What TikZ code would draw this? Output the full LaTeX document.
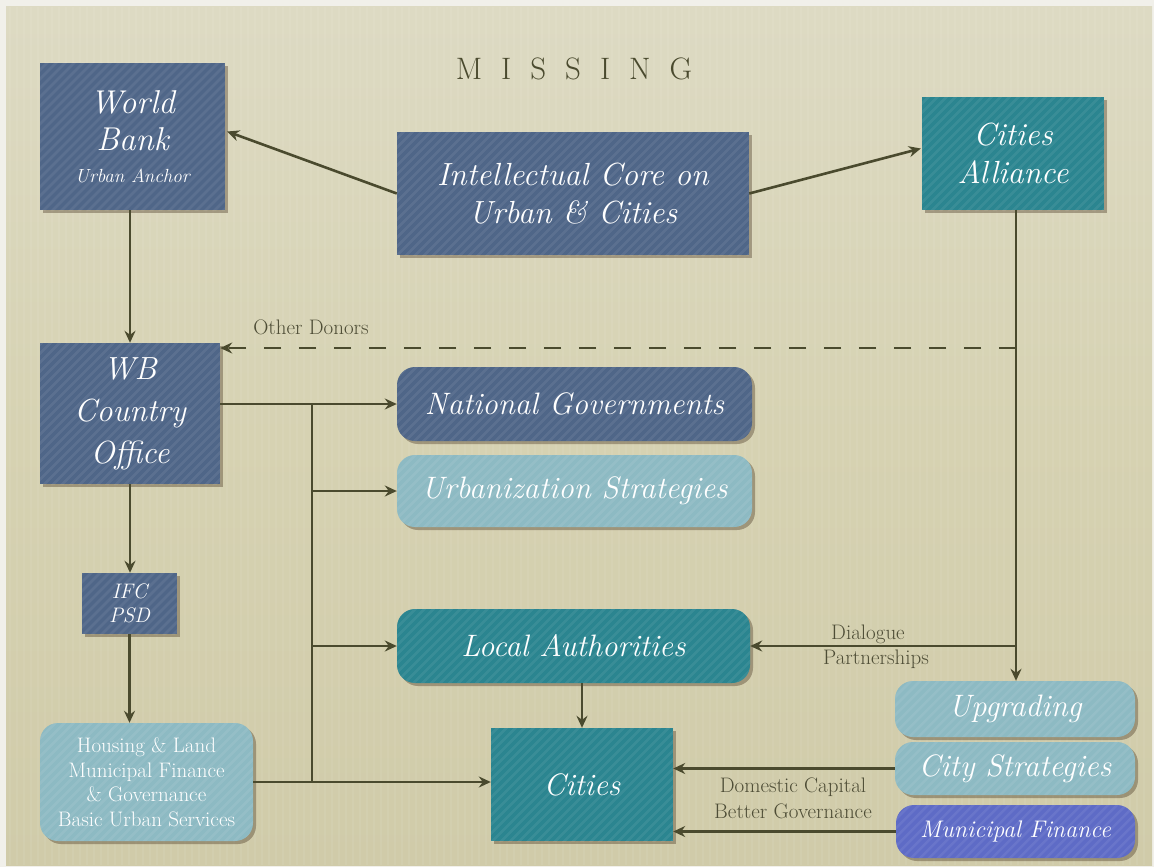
\documentclass[tikz,border=0pt]{standalone}
\usepackage{fontspec}
\usetikzlibrary{arrows.meta,calc,shadows}

\definecolor{paper}{HTML}{D6D2B2}
\definecolor{paperlight}{HTML}{DDDAC3}
\definecolor{paperdark}{HTML}{D0CBA9}
\definecolor{frame}{HTML}{F1F0EA}
\definecolor{slate}{HTML}{4F6688}
\definecolor{teal}{HTML}{2B8590}
\definecolor{pale}{HTML}{8DBAC3}
\definecolor{violet}{HTML}{5E6BC6}
\definecolor{ink}{HTML}{4A4A2E}
\definecolor{labelink}{HTML}{4E4D36}

\tikzset{
  box/.style={
    fill=#1, draw=none, inner sep=0pt, align=center, text=white,
    drop shadow={shadow xshift=3pt, shadow yshift=-3pt, opacity=0.35, fill=black!70!brown},
    path picture={
      \foreach \i in {-420,-411,...,420}
        \draw[white, opacity=0.07, line width=2.5pt]
          ($(path picture bounding box.center)+(\i-220,220)$) -- ++(440,-440);
    }
  },
  roundbox/.style={box=#1, rounded corners=18pt},
  arr/.style={draw=ink, line width=2.6pt, -{Stealth[length=12pt,width=11pt,inset=4pt]}},
  plain/.style={draw=ink, line width=2.6pt},
  note/.style={text=labelink, font=\fontsize{21}{24}\selectfont, align=center, inner sep=0pt}
}

\begin{document}
\begin{tikzpicture}[x=1pt, y=-1pt]
  % page and paper
  \useasboundingbox (0,0) rectangle (1154,867);
  \fill[frame] (0,0) rectangle (1154,867);
  \shade[top color=paperlight, bottom color=paperdark, middle color=paper]
    (6,7) rectangle (1152,865);
  \foreach \x in {10,17,...,1150}
    \draw[white, opacity=0.06, line width=1.2pt] (\x,7) -- (\x,865);

  % heading
  \node[text=ink, font=\fontsize{31}{32}\selectfont, inner sep=0pt] (title) at (574,69)
    {M\kern19pt I\kern19pt S\kern19pt S\kern19pt I\kern19pt N\kern19pt G};

  % top row
  \node[box=slate, minimum width=185pt, minimum height=147pt,
        font=\itshape\fontsize{33}{37}\selectfont] (wb) at (132.5,136.5)
    {World\\ Bank\\[-5pt] {\fontsize{19}{20}\selectfont Urban Anchor}};
  \node[box=slate, minimum width=352pt, minimum height=123pt,
        font=\itshape\fontsize{32}{38}\selectfont] (core) at (573,193.5)
    {Intellectual Core on\\ Urban \& Cities};
  \node[box=teal, minimum width=182pt, minimum height=113pt,
        font=\itshape\fontsize{32}{38}\selectfont] (ca) at (1013,153.5)
    {Cities\\ Alliance};

  % left column
  \node[box=slate, minimum width=180pt, minimum height=141pt,
        font=\itshape\fontsize{32}{42}\selectfont] (wbco) at (130,413.5)
    {WB\\ Country\\ Office};
  \node[box=slate, minimum width=95pt, minimum height=61pt,
        font=\itshape\fontsize{21}{24}\selectfont] (ifc) at (129.5,603.5)
    {IFC\\ PSD};
  \node[roundbox=pale, minimum width=213pt, minimum height=118pt,
        font=\fontsize{21}{24.5}\selectfont] (housing) at (146.5,782)
    {Housing \& Land\\ Municipal Finance\\ \& Governance\\ Basic Urban Services};

  % middle column
  \node[roundbox=slate, minimum width=355pt, minimum height=74pt, font=\itshape\fontsize{31}{36}\selectfont] (natgov) at (574.5,404) {National Governments};
  \node[roundbox=pale, minimum width=355pt, minimum height=72pt, font=\itshape\fontsize{31}{36}\selectfont] (urbstr) at (574.5,491) {Urbanization Strategies};
  \node[roundbox=teal, minimum width=353pt, minimum height=74pt, font=\itshape\fontsize{31}{36}\selectfont] (local) at (573.5,646) {Local Authorities};
  \node[box=teal, minimum width=182pt, minimum height=113pt, font=\itshape\fontsize{31}{36}\selectfont] (cities) at (582,784.5) {Cities};

  % right column
  \node[roundbox=pale, minimum width=240pt, minimum height=56pt, font=\itshape\fontsize{31}{36}\selectfont] (upg) at (1015,709) {Upgrading};
  \node[roundbox=pale, minimum width=240pt, minimum height=53pt, font=\itshape\fontsize{31}{36}\selectfont] (cityst) at (1015,768.5) {City Strategies};
  \node[roundbox=violet, minimum width=239pt, minimum height=53pt, font=\itshape\fontsize{24}{28}\selectfont] (munfin) at (1015.5,831.5) {Municipal Finance};

  % junction points of the connectors
  \coordinate (donor) at (1016,348);
  \coordinate (trunktop) at (312,0 |- natgov.west);
  \coordinate (trunkbot) at (312,0 |- housing.east);

  % connectors from the intellectual core
  \draw[arr] (core.west) -- ($(wb.east)+(2,-5)$);
  \draw[arr] (core.east) -- ($(ca.west)+(-1,-5)$);

  % World Bank chain
  \draw[arr] (wb.south -| wbco.north) -- (wbco.north);
  \draw[arr] (wbco.south) -- (wbco.south |- ifc.north);
  \draw[arr] (ifc.south) -- (ifc.south |- housing.north);

  % other donors
  \draw[arr, dash pattern=on 17pt off 18pt] (donor) -- (wbco.east |- donor);
  \node[note] (donors) at (311,327) {Other Donors};

  % country office branches
  \draw[arr] (wbco.east |- natgov.west) -- (natgov.west);
  \draw[plain] (trunktop) -- (trunkbot);
  \draw[arr] (trunktop |- urbstr.west) -- (urbstr.west);
  \draw[arr] (trunktop |- local.west) -- (local.west);
  \draw[arr] (housing.east) -- (cities.west |- housing.east);

  % local authorities to cities
  \draw[arr] (cities.north |- local.south) -- (cities.north);

  % Cities Alliance chain
  \draw[arr] (ca.south -| donor) -- (donor |- upg.north);
  \draw[arr] (donor |- local.east) -- (local.east);
  \node[note] (dialogue) at (868,634) {Dialogue};
  \node[note] (partners) at (876,659) {Partnerships};

  % into cities from the right
  \draw[arr] (cityst.west) -- (cities.east |- cityst.west);
  \draw[arr] (munfin.west) -- (cities.east |- munfin.west);
  \node[note] (capital) at (793,787) {Domestic Capital};
  \node[note] (govern) at (793,811) {Better Governance};
\end{tikzpicture}
\end{document}
